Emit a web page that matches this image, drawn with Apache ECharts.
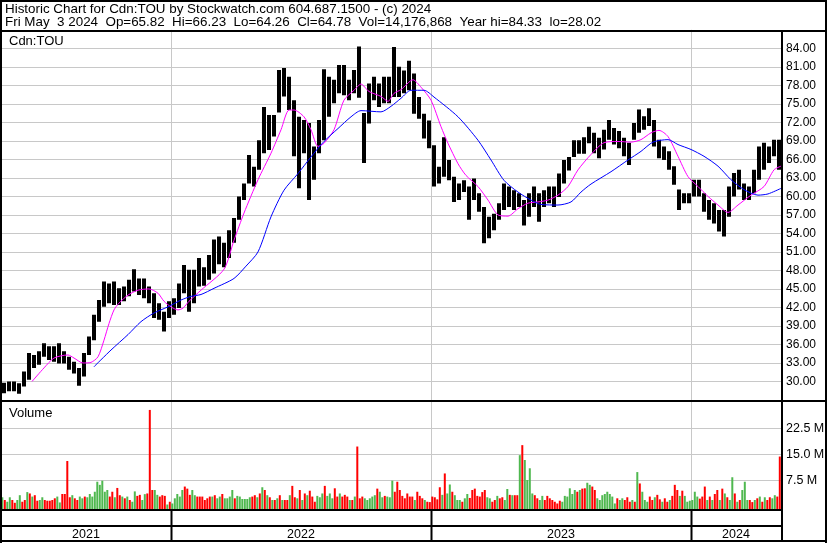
<!DOCTYPE html>
<html><head><meta charset="utf-8">
<script src="https://cdn.jsdelivr.net/npm/echarts@6/dist/echarts.min.js"></script>
<style>html,body{margin:0;padding:0;background:#fff;overflow:hidden}#c{width:830px;height:543px}</style>
</head><body><div id="c"></div>
<script>
// ---------------- data ----------------
const years = ['2021', '2022', '2023', '2024'];
const yearWeeks = [34, 52, 52, 18];           // weeks shown in each year
const priceTicks = {min: 27, max: 87, step: 3, firstLabel: 30, lastLabel: 84};
// weekly low / high (Cdn:TOU)
const weekLow = [28.1,28.4,28.4,28.0,29.2,30.3,32.2,32.7,34.0,33.5,33.2,32.9,32.9,31.9,31.3,29.3,30.8,34.3,36.7,39.7,
42.1,42.7,42.4,42.4,43.0,43.8,44.6,44.0,43.5,42.7,40.3,40.0,38.1,40.3,40.8,41.9,44.3,41.3,42.7,45.4,
45.5,46.5,47.5,49.0,48.5,50.0,52.5,56.2,59.4,62.1,61.6,64.3,67.0,67.5,69.7,73.6,76.2,74.0,66.5,61.3,
67.0,59.4,62.7,67.0,69.1,72.9,75.1,76.7,76.4,75.6,76.7,76.0,65.4,71.8,75.6,74.5,75.1,75.1,76.1,76.1,
76.7,77.2,73.4,72.6,69.4,67.8,61.6,62.1,63.2,62.6,59.1,59.4,60.7,56.2,59.4,57.5,52.4,53.2,54.5,56.2,
57.8,58.3,57.8,58.3,55.3,56.7,58.3,55.9,58.3,58.9,58.3,59.9,62.1,64.2,66.4,66.9,66.9,68.6,67.0,66.2,
67.6,69.2,68.4,67.8,66.5,65.1,69.2,70.3,70.8,71.4,68.1,66.2,65.9,64.3,61.9,57.8,58.9,58.9,60.0,60.0,
57.5,56.2,55.6,54.3,53.5,56.7,60.0,61.1,59.4,59.4,60.5,62.7,64.3,65.4,66.5,64.3];
const weekHigh = [29.8,30.0,30.0,29.7,31.6,34.6,34.3,34.9,36.2,35.7,35.7,36.2,34.9,34.0,33.2,32.2,34.6,37.3,40.8,43.2,
46.2,45.9,46.2,45.1,45.4,46.5,48.2,46.7,46.7,45.4,44.3,42.7,41.3,43.0,43.5,45.9,48.9,48.1,48.1,50.0,
48.5,50.5,53.0,53.5,52.5,54.5,56.5,60.0,62.1,66.7,64.8,69.1,74.5,73.2,73.2,80.5,80.8,79.4,75.6,72.9,
72.4,71.9,68.1,72.4,80.6,79.4,78.9,81.3,81.3,78.9,80.5,84.3,73.5,78.3,79.4,78.3,79.4,79.4,84.2,81.0,
80.4,82.0,79.9,76.1,73.4,72.3,68.3,64.8,69.6,65.9,63.2,62.1,62.6,61.6,62.9,60.5,58.3,56.7,57.2,58.9,
62.1,61.6,61.0,60.5,59.4,60.5,61.6,60.5,61.0,61.6,61.6,63.7,65.9,66.4,69.1,69.1,69.6,71.3,70.3,69.5,
70.8,72.4,71.1,70.6,69.5,68.7,71.9,74.1,73.0,74.3,72.4,69.2,68.1,67.3,64.9,61.1,60.5,60.5,62.7,62.7,
60.5,59.4,58.9,57.8,57.8,61.6,63.8,64.3,62.1,61.6,64.3,68.1,68.7,68.1,69.2,69.2];
// moving averages: [week position, price]
const maShort = [[6.2,30.0],[8.6,32.2],[10.6,33.8],[13.4,34.3],[14.6,33.8],[16.4,33.0],[18,33.1],[19.4,34.0],[20.6,36.7],[21.6,39.4],[22.6,41.6],[23.6,42.7],[25.4,44.0],[27.4,44.8],[29.6,45.0],[31.4,44.3],[32.6,43.0],[34,42.1],[35.4,41.6],[36.4,41.9],[37.6,43.0],[40,44.8],[44.6,48.2],[46.6,52.9],[48.6,57.3],[51.4,62.7],[54,67.0],[56,70.8],[57.6,74.0],[58.6,74.0],[60.6,72.9],[62,70.8],[63.4,68.1],[64.6,68.6],[66.6,70.8],[68.6,75.6],[70.6,77.2],[72,78.2],[73.6,77.0],[76,76.2],[77.4,75.4],[78.6,76.7],[80,77.3],[82.4,78.9],[84,77.7],[86,75.6],[88,71.3],[89.4,68.6],[91.4,65.3],[93,63.4],[95.4,61.6],[97.4,59.4],[99.4,57.0],[101.4,56.8],[103.4,58.0],[105.4,58.9],[107.4,59.1],[109.4,59.4],[111.4,60.2],[113.4,61.6],[115.4,64.3],[118,66.8],[120.6,68.7],[123.4,68.9],[126,68.8],[128,69.2],[130,70.3],[131.6,70.7],[133.4,69.7],[135.4,66.5],[137.4,63.2],[139.4,61.6],[141.4,60.0],[143.4,58.6],[145.4,57.4],[147.4,58.6],[150,60.2],[152.6,61.6],[154.6,64.3],[156,64.9]];
const maLong = [[18.6,32.4],[22,35.1],[25.4,37.6],[28,39.7],[30.6,41.1],[33.4,42.1],[36,43.2],[38,43.8],[40,44.1],[42.6,45.1],[46.6,46.7],[49,48.7],[51.4,51.0],[54,56.7],[56.6,61.0],[59.4,63.7],[62,66.4],[64.6,68.9],[67.4,71.0],[70,72.9],[72,73.9],[76,73.7],[78,74.6],[80,75.9],[82,77.2],[84.6,77.2],[86.6,76.1],[91.4,72.9],[95.4,69.1],[98,65.9],[100.6,62.6],[103.4,60.7],[106,59.4],[108,58.7],[111.4,58.6],[114,59.1],[116,60.7],[118,62.0],[122,64.0],[125.4,65.9],[128,67.3],[130.4,68.8],[133.4,69.2],[135.4,68.4],[138,67.6],[140.6,66.5],[143.4,64.9],[146,62.7],[148.6,61.1],[151.4,60.2],[153.4,60.4],[156,61.3]];
// volume in millions, two readings per week; G = up day colour, R = down day colour
const volume = [2.4,1.6,1.1,2.4,1.6,0.8,1.6,3.0,1.1,1.6, 3.9,3.5,2.6,3.0,1.4,1.6,2.4,1.6,1.4,1.4,
1.6,2.1,2.6,0.9,3.35,3.35,12.9,2.4,3.0,2.1, 1.6,2.6,2.1,2.6,2.4,3.35,2.6,4.0,6.9,6.0,
7.2,4.0,4.5,2.6,4.0,2.4,5.1,3.0,2.6,2.1, 2.6,1.6,1.1,4.1,2.8,3.1,1.6,3.3,3.5,27.7,
4.5,4.5,3.1,2.6,3.0,2.8,0.3,1.1,0.6,2.1, 3.35,2.6,4.5,5.5,4.9,3.1,4.5,3.0,2.6,2.6,
2.6,1.6,2.1,2.6,2.6,3.0,2.1,2.6,3.35,2.1, 2.1,2.6,4.5,2.1,2.8,2.6,1.9,1.9,1.9,2.4,
2.6,3.0,2.4,3.5,5.3,4.5,3.0,2.4,1.6,1.6, 2.1,3.0,1.6,1.6,1.6,3.0,5.7,2.4,2.1,4.5,
1.6,3.5,3.0,4.3,2.6,1.1,2.8,2.4,3.5,5.7, 2.8,3.5,2.1,5.0,2.6,3.5,2.6,3.1,2.6,1.6,
1.6,2.6,17.1,2.1,2.6,2.1,1.6,2.1,2.6,3.0, 4.9,4.0,2.4,2.8,2.6,2.4,7.2,4.0,6.9,4.5,
2.8,2.1,3.5,2.6,2.6,1.6,4.0,2.8,2.1,1.6, 1.1,1.0,2.6,2.4,1.8,5.3,3.1,9.3,3.5,6.1,
4.0,3.0,1.6,1.6,1.1,2.1,3.35,2.2,4.5,4.9, 2.8,2.6,3.9,4.5,2.4,2.1,1.1,1.6,2.8,2.1,
2.4,1.6,4.8,3.1,3.0,3.0,3.0,14.6,17.5,13.2, 7.4,10.8,3.5,3.0,2.1,1.6,2.8,1.6,2.8,2.1,
1.6,1.1,0.6,1.4,1.1,2.8,2.6,5.0,3.35,4.5, 4.0,4.5,4.9,5.0,6.6,6.0,5.5,4.5,2.1,1.6,
3.0,3.35,4.0,3.35,2.6,0.6,2.1,1.6,2.1,1.6, 2.4,1.1,1.6,1.1,9.7,6.4,4.0,1.6,1.1,2.6,
1.6,2.4,3.1,1.8,1.1,2.1,1.1,1.6,2.8,6.0, 4.5,2.8,4.3,2.8,1.1,1.4,1.6,4.0,2.6,2.0,
2.6,5.5,1.6,2.6,1.6,3.35,4.5,1.6,4.9,3.5, 2.4,1.6,8.2,3.5,1.1,1.6,4.5,6.9,1.6,1.6,
1.0,1.6,2.1,2.6,1.1,2.4,1.6,2.4,2.1,3.0, 2.6,14.2];
const volDir = 'GRGGRRGGRR' + 'GRGRRGGRRR' + 'RRGGRRRRGR' + 'RGGRGGGGGG' + 'GGGRRGRRGR' + 'GRGGRRGGRR' +
  'RGGRRRGRGG' + 'GGGRRRGGRR' + 'RRRRGRGGRG' + 'GGGRGGGGGG' + 'RRGRGRGRGR' + 'GRGRRGRRGR' + 'GRGRRRGGGR' +
  'GGGRRGRRRG' + 'RGRRRGGGGG' + 'RGGRGGGRRR' + 'RRRRRGRRRG' + 'RRRRRRGRGG' + 'RGGGRGGRRR' + 'RRRRGGRRGR' +
  'RGGRGRRGRG' + 'GGGRRGGRRR' + 'RRRRGGGGGG' + 'RGRRGGRRGG' + 'GGGGGGRGGR' + 'RRGRGRGGGR' + 'RGRRGRRGRR' +
  'RGRGGGGGGR' + 'RRGRGRRGRG' + 'RGGRGRGGGR' + 'RGRGRGRRGG' + 'RR';
const volAxis = {min: -1, max: 30, ticks: [7.5, 15, 22.5]};
const titleLine1 = 'Historic Chart for Cdn:TOU by Stockwatch.com 604.687.1500 - (c) 2024';
const titleLine2 = 'Fri May  3 2024  Op=65.82  Hi=66.23  Lo=64.26  Cl=64.78  Vol=14,176,868  Year hi=84.33  lo=28.02';
const symbolLabel = 'Cdn:TOU';
const volumeLabel = 'Volume';

// ---------------- chart ----------------
const FONT = '"Liberation Sans", Arial, Helvetica, sans-serif';
const nWeeks = weekLow.length;
const GRID_COLOR = '#c8c8c8';
const chart = echarts.init(document.getElementById('c'), null, {renderer: 'canvas'});

chart.setOption({
  animation: false,
  backgroundColor: '#fff',
  grid: [
    {left: 1, width: 780, top: 29.8, height: 370.2, containLabel: false, outerBoundsMode: 'none'},
    {left: 1, width: 780, top: 402, height: 107, containLabel: false, outerBoundsMode: 'none'}
  ],
  xAxis: [
    {gridIndex: 0, type: 'value', min: 0, max: nWeeks, show: false},
    {gridIndex: 1, type: 'value', min: 0, max: nWeeks, show: false}
  ],
  yAxis: [
    {gridIndex: 0, type: 'value', position: 'right', min: priceTicks.min, max: priceTicks.max, interval: priceTicks.step,
     axisLine: {show: false}, axisTick: {show: false},
     splitLine: {show: true, lineStyle: {color: GRID_COLOR, width: 1}},
     axisLabel: {margin: 5, color: '#000', fontFamily: FONT, fontSize: 12, align: 'left',
       formatter: v => (v < priceTicks.firstLabel || v > priceTicks.lastLabel) ? '' : v.toFixed(2)}},
    {gridIndex: 1, type: 'value', min: volAxis.min, max: volAxis.max, show: false}
  ],
  series: [
    {
      type: 'custom', xAxisIndex: 0, yAxisIndex: 0, z: 3, clip: true,
      data: weekLow.map((lo, i) => [i, lo, weekHigh[i]]),
      renderItem: (params, api) => {
        const x = api.value(0);
        const top = api.coord([x + 0.1, api.value(2)]);
        const bot = api.coord([x + 0.9, api.value(1)]);
        return {type: 'rect', shape: {x: Math.round(top[0]), y: top[1], width: Math.round(bot[0] - top[0]), height: bot[1] - top[1]},
                style: {fill: '#000'}};
      }
    },
    {type: 'line', xAxisIndex: 0, yAxisIndex: 0, data: maShort, showSymbol: false, smooth: 0.25, z: 5,
     lineStyle: {color: '#ff00ff', width: 1}, itemStyle: {color: '#ff00ff'}},
    {type: 'line', xAxisIndex: 0, yAxisIndex: 0, data: maLong, showSymbol: false, smooth: 0.25, z: 5,
     lineStyle: {color: '#0000ff', width: 1}, itemStyle: {color: '#0000ff'}},
    {
      type: 'custom', xAxisIndex: 1, yAxisIndex: 1, z: 3, clip: true,
      data: volume.map((v, h) => [h / 2, v, volDir[h] === 'G' ? 1 : 0]),
      renderItem: (params, api) => {
        const x = api.value(0);
        const top = api.coord([x + 0.06, api.value(1)]);
        const bot = api.coord([x + 0.46, volAxis.min]);
        return {type: 'rect', shape: {x: top[0], y: top[1], width: bot[0] - top[0], height: bot[1] - top[1]},
                style: {fill: api.value(2) ? '#4fb84f' : '#ff0000'}};
      }
    }
  ]
});

// decorations placed through the chart's own scales
const g = [];
const line = (x1, y1, x2, y2, color, w, z) => g.push({type: 'line', z: z, silent: true,
  shape: {x1, y1, x2, y2}, style: {stroke: color, lineWidth: w}});
const rect = (x, y, w, h) => g.push({type: 'rect', z: 100, silent: true, shape: {x, y, width: w, height: h}, style: {fill: '#000'}});
const text = (t, x, y, size, align, z) => g.push({type: 'text', z: z || 101, silent: true, x, y,
  style: {text: t, fill: '#000', font: size + 'px ' + FONT, textAlign: align || 'left', textVerticalAlign: 'middle'}});

const priceTop = chart.convertToPixel({yAxisIndex: 0}, priceTicks.max);
const volBottom = chart.convertToPixel({yAxisIndex: 1}, volAxis.min);
const plotRight = chart.convertToPixel({xAxisIndex: 0}, nWeeks);
// volume grid lines and labels
volAxis.ticks.forEach(v => {
  const y = Math.round(chart.convertToPixel({yAxisIndex: 1}, v)) + 0.5;
  line(1, y, plotRight, y, GRID_COLOR, 1, 0);
  text(v.toFixed(1) + ' M', plotRight + 5, y, 12.5, 'left');
});
// year separators + labels
let start = 0;
years.forEach((yr, k) => {
  const mid = chart.convertToPixel({xAxisIndex: 1}, start + yearWeeks[k] / 2);
  text(yr, mid, 535, 12.5, 'center');
  if (k > 0) {
    const x = Math.round(chart.convertToPixel({xAxisIndex: 0}, start)) + 0.5;
    line(x, priceTop, x, volBottom, GRID_COLOR, 1, 0);
    line(x, volBottom, x, 541, '#000', 2, 100);
  }
  start += yearWeeks[k];
});
// frame
rect(0, 0, 827, 2);          // top
rect(0, 0, 2, 543);          // left
rect(825, 0, 2, 543);        // right
rect(0, 540, 827, 2);        // bottom
rect(0, 30, 827, 2);         // under header
rect(781, 30, 2, 512);       // axis divider
rect(0, 400, 827, 2);        // price / volume
rect(0, 509, 782, 2);        // below volume
rect(0, 525, 782, 2);        // above years
// texts
text(titleLine1, 5, 9, 13.4, 'left');
text(titleLine2, 5, 22.5, 13.4, 'left');
text(symbolLabel, 9, 41.5, 13, 'left');
text(volumeLabel, 9, 413.5, 13, 'left');

chart.setOption({graphic: {elements: g}});
</script>
</body></html>
